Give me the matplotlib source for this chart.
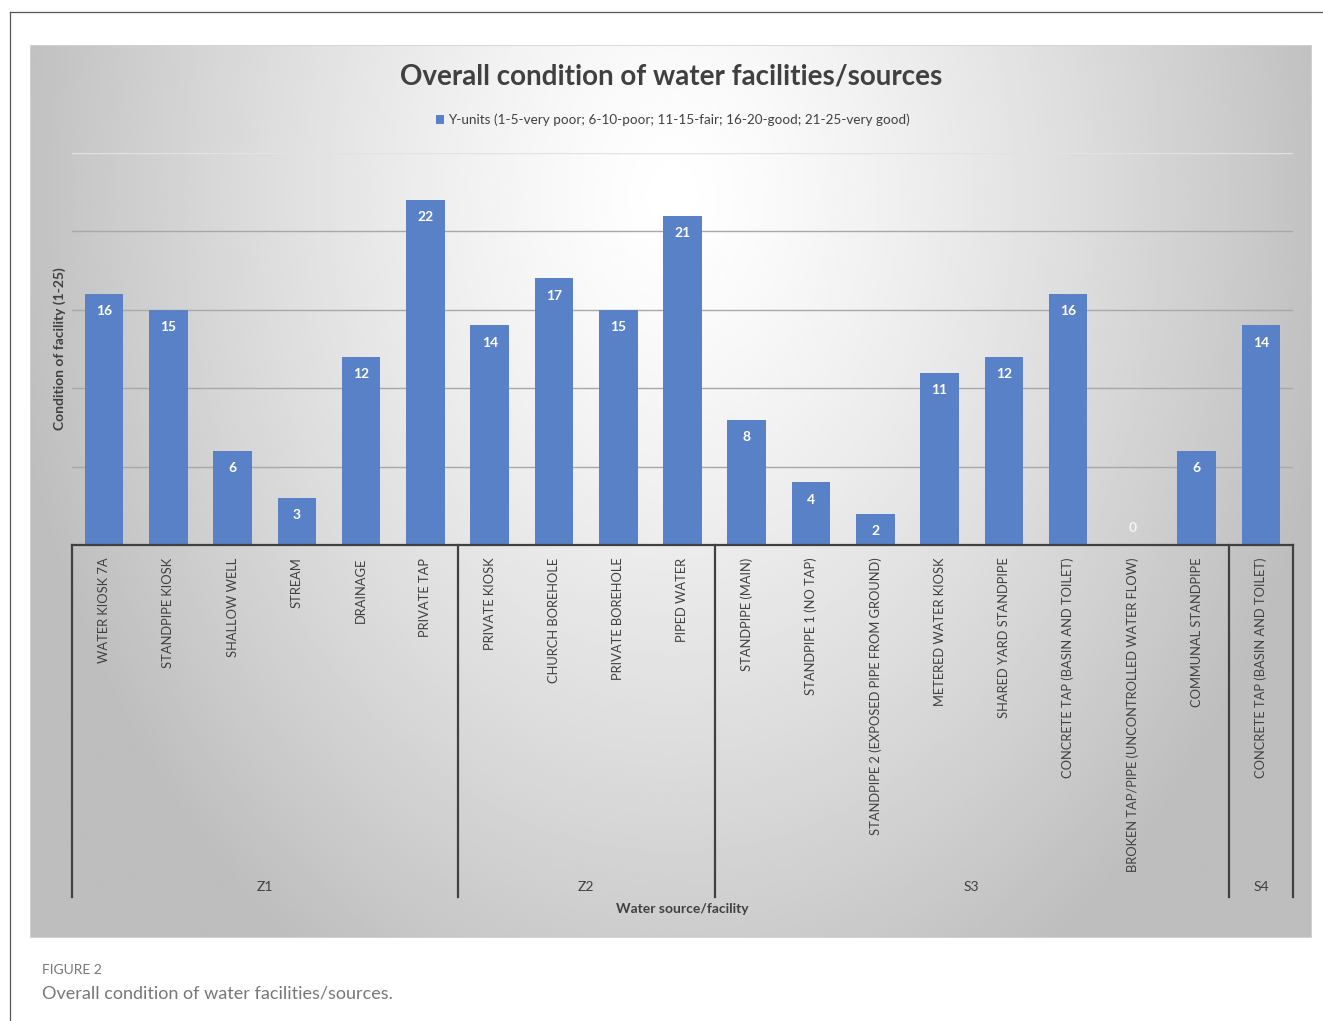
import numpy as np
import matplotlib
matplotlib.use("Agg")
import matplotlib.pyplot as plt
from matplotlib.patches import Patch
from matplotlib.lines import Line2D

plt.rcParams["font.family"] = ["Lato", "DejaVu Sans"]

# Facilities, their condition scores and the site groups they belong to
facilities = [
    "WATER KIOSK 7A", "STANDPIPE KIOSK", "SHALLOW WELL", "STREAM", "DRAINAGE",
    "PRIVATE TAP", "PRIVATE KIOSK", "CHURCH BOREHOLE", "PRIVATE BOREHOLE",
    "PIPED WATER", "STANDPIPE (MAIN)", "STANDPIPE 1 (NO TAP)",
    "STANDPIPE 2 (EXPOSED PIPE FROM GROUND)", "METERED WATER KIOSK",
    "SHARED YARD STANDPIPE", "CONCRETE TAP (BASIN AND TOILET)",
    "BROKEN TAP/PIPE (UNCONTROLLED WATER FLOW)", "COMMUNAL STANDPIPE",
    "CONCRETE TAP (BASIN AND TOILET)",
]
scores = [16, 15, 6, 3, 12, 22, 14, 17, 15, 21, 8, 4, 2, 11, 12, 16, 0, 6, 14]
groups = ["Z1", "Z2", "S3", "S4"]
group_sizes = [6, 4, 8, 1]

legend_label = "Y-units (1-5-very poor; 6-10-poor; 11-15-fair; 16-20-good; 21-25-very good)"

W, H = 1323, 1021
fig = plt.figure(figsize=(W / 100, H / 100), dpi=100)

def fig_rect(x0, y0, x1, y1):
    return [x0 / W, 1 - y1 / H, (x1 - x0) / W, (y1 - y0) / H]

# outer page frame
fig.add_artist(Line2D([10 / W, 1], [1 - 12 / H, 1 - 12 / H], color="#555555", lw=0.9))
fig.add_artist(Line2D([10 / W, 10 / W], [0, 1 - 12 / H], color="#555555", lw=0.9))

# radial grey-to-white backdrop of the chart panel
bg = fig.add_axes(fig_rect(30, 45, 1312, 938))
yy, xx = np.mgrid[0:300, 0:430]
r = np.sqrt(((xx - 215) / 215.0) ** 2 + ((yy - 50) / 290.0) ** 2)
shade = 1.0 - 0.24 * np.clip(r, 0, 1.05) ** 1.3
bg.imshow(shade, cmap="gray", vmin=0, vmax=1, aspect="auto", interpolation="bilinear")
bg.set_axis_off()
bg.add_artist(plt.Rectangle((0, 0), 1, 1, transform=bg.transAxes, fill=False,
                            edgecolor="#d4d4d4", lw=1.2))

ax = fig.add_axes(fig_rect(72, 153, 1293, 545))
ax.set_facecolor("none")
x = np.arange(len(scores))
bar_color = "#5981c8"
ax.bar(x, scores, width=0.6, color=bar_color, zorder=3)
ax.set_xlim(-0.5, len(scores) - 0.5)
ax.set_ylim(0, 25)

for gv in [5, 10, 15, 20]:
    ax.axhline(gv, color="#a8a8a8", lw=1, zorder=1)
ax.axhline(25, color="#e2e2e2", lw=1, zorder=1)

for s in ax.spines.values():
    s.set_visible(False)
ax.set_yticks([])
ax.set_xticks(x)
ax.set_xticklabels(facilities, rotation=90, ha="center", va="top",
                   fontsize=9.3, color="#404040")
ax.tick_params(axis="x", length=0, pad=9)

# value labels inside the top of each bar
for xi, v in zip(x, scores):
    if v == 0:
        ax.annotate(str(v), (xi, v), xytext=(0, 12), textcoords="offset points",
                    ha="center", va="center", fontsize=10, fontweight="bold",
                    color="#f4f4f4")
    else:
        ax.annotate(str(v), (xi, v), xytext=(0, -12.5), textcoords="offset points",
                    ha="center", va="center", fontsize=10, fontweight="bold",
                    color="white", zorder=4)

# group boxes below the axis
trans = ax.get_xaxis_transform()
line_kw = dict(color="#404040", lw=1.6, transform=trans, clip_on=False, zorder=4)
depth = -352 / 392
ax.plot([-0.5, len(scores) - 0.5], [0, 0], **line_kw)
edges = np.concatenate([[0], np.cumsum(group_sizes)]) - 0.5
for e in edges:
    ax.plot([e, e], [0, depth], **line_kw)
for g, a, b in zip(groups, edges[:-1], edges[1:]):
    ax.text((a + b) / 2, -342 / 392, g, transform=trans, ha="center", va="center",
            fontsize=10, color="#404040")

fig.text(682 / W, 1 - 909 / H, "Water source/facility", ha="center", va="center",
         fontsize=10, fontweight="bold", color="#404040")
fig.text(60 / W, 1 - 349 / H, "Condition of facility (1-25)", rotation=90,
         ha="center", va="center", fontsize=10, fontweight="bold", color="#404040")
fig.text(671 / W, 1 - 77 / H, "Overall condition of water facilities/sources",
         ha="center", va="center", fontsize=20, fontweight="bold", color="#404040")

fig.legend(handles=[Patch(facecolor=bar_color, label=legend_label)],
           loc="center", bbox_to_anchor=(673 / W, 1 - 120 / H), frameon=False,
           fontsize=9.7, handlelength=0.6, handleheight=0.6, handletextpad=0.3,
           labelcolor="#404040")

fig.text(42 / W, 1 - 970 / H, "FIGURE 2", ha="left", va="center",
         fontsize=10, color="#777777")
fig.text(42 / W, 1 - 993 / H, "Overall condition of water facilities/sources.",
         ha="left", va="center", fontsize=13, color="#777777")

fig.savefig("out.png", dpi=100)
